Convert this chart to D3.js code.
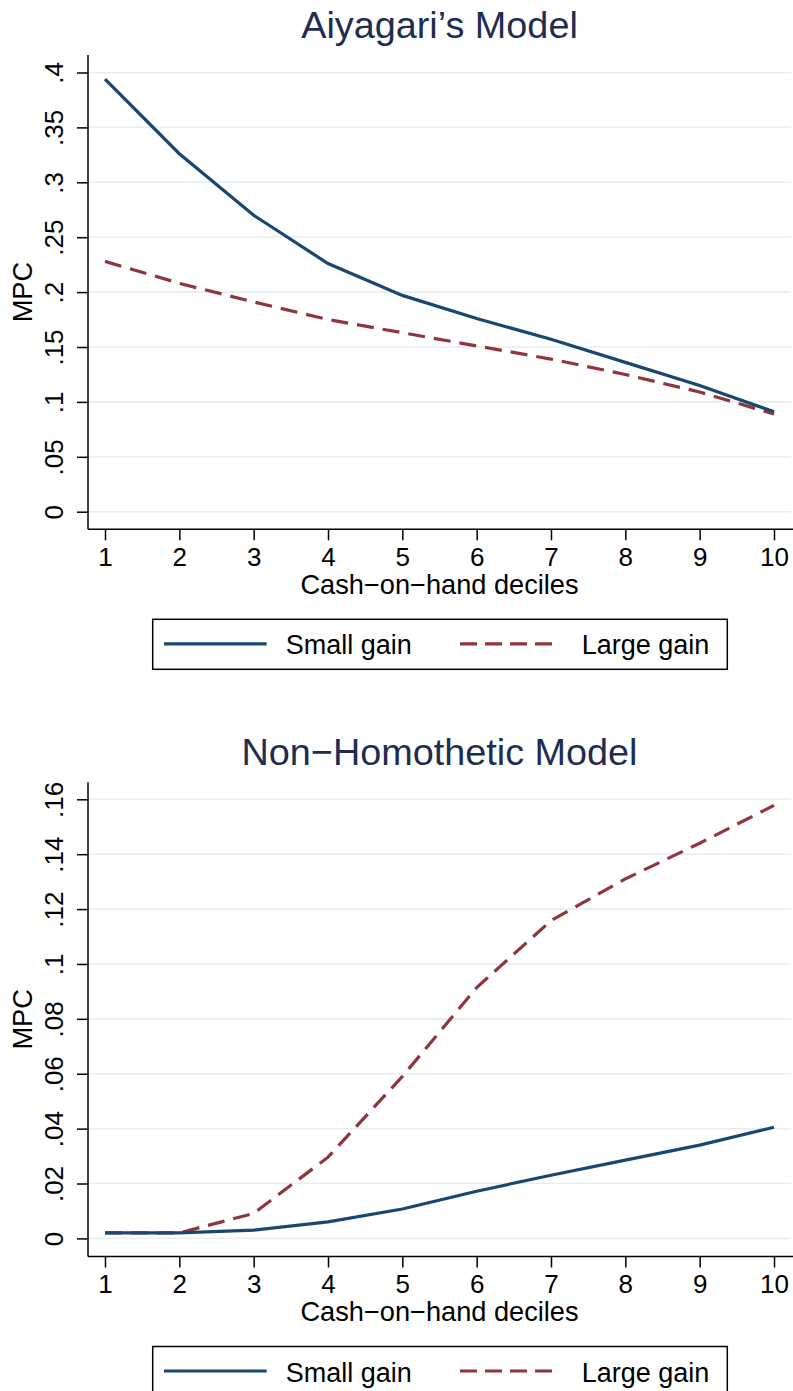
<!DOCTYPE html>
<html>
<head>
<meta charset="utf-8">
<script src="https://cdn.jsdelivr.net/npm/d3@7"></script>
<style>
  html, body { margin: 0; padding: 0; background: #fff; }
  svg { display: block; font-family: "Liberation Sans", Arial, Helvetica, sans-serif; }
</style>
</head>
<body>
<svg id="chart" width="793" height="1391"></svg>
<script>
// Cash-on-hand deciles and MPC by model
const deciles = [1, 2, 3, 4, 5, 6, 7, 8, 9, 10];

const aiyagariSmall = [0.394, 0.326, 0.270, 0.226, 0.197, 0.176, 0.157, 0.136, 0.115, 0.091];
const aiyagariLarge = [0.228, 0.208, 0.191, 0.175, 0.163, 0.151, 0.139, 0.125, 0.109, 0.089];

const nonHomSmall = [0.0020, 0.0020, 0.0030, 0.0060, 0.0107, 0.0172, 0.0230, 0.0285, 0.0340, 0.0405];
const nonHomLarge = [0.0020, 0.0020, 0.0091, 0.0296, 0.0590, 0.0914, 0.1158, 0.1310, 0.1440, 0.1578];

const aiyagariTicks = [0, 0.05, 0.1, 0.15, 0.2, 0.25, 0.3, 0.35, 0.4];
const nonHomTicks = [0, 0.02, 0.04, 0.06, 0.08, 0.1, 0.12, 0.14, 0.16];

const seriesNames = ["Small gain", "Large gain"];

const COLORS = { small: "#1a476f", large: "#90353b", title: "#1e2d50", grid: "#e6eef1" };

// Stata-like tick label: drop the leading zero (".05", ".1")
const fmtTick = v => {
  if (v === 0) return "0";
  return String(+v.toFixed(3)).replace(/^0\./, ".");
};

const svg = d3.select("#chart");

function drawPanel(opts) {
  const g = svg.append("g").attr("transform", `translate(0,${opts.offsetY})`);
  const left = 88, right = 791, top = 55, bottom = 529.3;

  const x = d3.scaleLinear().domain([1, 10]).range([105, 774]);
  const y = d3.scaleLinear().domain([0, opts.ticks[opts.ticks.length - 1]]).range(opts.yRange);

  // title
  g.append("text")
    .attr("x", 439.5).attr("y", 38.3)
    .attr("text-anchor", "middle")
    .attr("font-size", 37.8).attr("fill", COLORS.title)
    .text(opts.title);

  // horizontal grid lines
  g.append("g").selectAll("line").data(opts.ticks).join("line")
    .attr("x1", left).attr("x2", right)
    .attr("y1", d => y(d)).attr("y2", d => y(d))
    .attr("stroke", COLORS.grid).attr("stroke-width", 1.6);

  // y axis
  const yAxis = d3.axisLeft(y).tickValues(opts.ticks).tickSize(11).tickPadding(0).tickFormat(fmtTick);
  const ya = g.append("g").attr("transform", `translate(${left},0)`).call(yAxis);
  ya.select(".domain").remove();
  ya.selectAll(".tick line").attr("stroke", "#000").attr("stroke-width", 1.5);
  ya.selectAll(".tick text")
    .attr("x", null).attr("dy", null)
    .attr("transform", "translate(-25,0) rotate(-90)")
    .attr("text-anchor", "middle")
    .attr("font-size", 26).attr("fill", "#000")
    .attr("font-family", "Liberation Sans, Arial, sans-serif");
  g.append("line").attr("x1", left).attr("x2", left).attr("y1", top).attr("y2", bottom)
    .attr("stroke", "#000").attr("stroke-width", 1.5);

  // x axis
  const xAxis = d3.axisBottom(x).tickValues(deciles).tickSize(11).tickPadding(0).tickFormat(d3.format("d"));
  const xa = g.append("g").attr("transform", `translate(0,${bottom})`).call(xAxis);
  xa.select(".domain").remove();
  xa.selectAll(".tick line").attr("stroke", "#000").attr("stroke-width", 1.5);
  xa.selectAll(".tick text")
    .attr("y", 36.4).attr("dy", null)
    .attr("font-size", 26).attr("fill", "#000")
    .attr("font-family", "Liberation Sans, Arial, sans-serif");
  g.append("line").attr("x1", left).attr("x2", right + 2).attr("y1", bottom).attr("y2", bottom)
    .attr("stroke", "#000").attr("stroke-width", 1.5);

  // axis titles
  g.append("text")
    .attr("x", 439.5).attr("y", bottom + 65)
    .attr("text-anchor", "middle").attr("font-size", 27.2).attr("fill", "#000")
    .text("Cash\u2212on\u2212hand deciles");
  g.append("text")
    .attr("transform", `translate(32,${(top + bottom) / 2}) rotate(-90)`)
    .attr("text-anchor", "middle").attr("font-size", 27.2).attr("fill", "#000")
    .text("MPC");

  // series lines
  const line = d3.line().x((d, i) => x(deciles[i])).y(d => y(d));
  g.append("path").datum(opts.large)
    .attr("d", line).attr("fill", "none")
    .attr("stroke", COLORS.large).attr("stroke-width", 3.2)
    .attr("stroke-dasharray", "17,9");
  g.append("path").datum(opts.small)
    .attr("d", line).attr("fill", "none")
    .attr("stroke", COLORS.small).attr("stroke-width", 3.2);

  // legend
  const lg = g.append("g").attr("transform", `translate(0,${bottom + 90})`);
  lg.append("rect")
    .attr("x", 152.7).attr("y", 0).attr("width", 574.6).attr("height", 50)
    .attr("fill", "#fff").attr("stroke", "#000").attr("stroke-width", 1.5);
  const items = [
    { name: seriesNames[0], color: COLORS.small, dash: null, x1: 164, x2: 266.7, tx: 285.7 },
    { name: seriesNames[1], color: COLORS.large, dash: "17,8", x1: 460, x2: 556.7, tx: 581.7 }
  ];
  items.forEach(it => {
    lg.append("line")
      .attr("x1", it.x1).attr("x2", it.x2).attr("y1", 24.5).attr("y2", 24.5)
      .attr("stroke", it.color).attr("stroke-width", 3.2)
      .attr("stroke-dasharray", it.dash);
    lg.append("text")
      .attr("x", it.tx).attr("y", 35)
      .attr("font-size", 27).attr("fill", "#000")
      .text(it.name);
  });
}

drawPanel({
  offsetY: 0,
  title: "Aiyagari\u2019s Model",
  ticks: aiyagariTicks,
  yRange: [511.7, 72.5],
  small: aiyagariSmall,
  large: aiyagariLarge
});

drawPanel({
  offsetY: 727.2,
  title: "Non\u2212Homothetic Model",
  ticks: nonHomTicks,
  yRange: [1238.4 - 727.2, 799.3 - 727.2],
  small: nonHomSmall,
  large: nonHomLarge
});
</script>
</body>
</html>
